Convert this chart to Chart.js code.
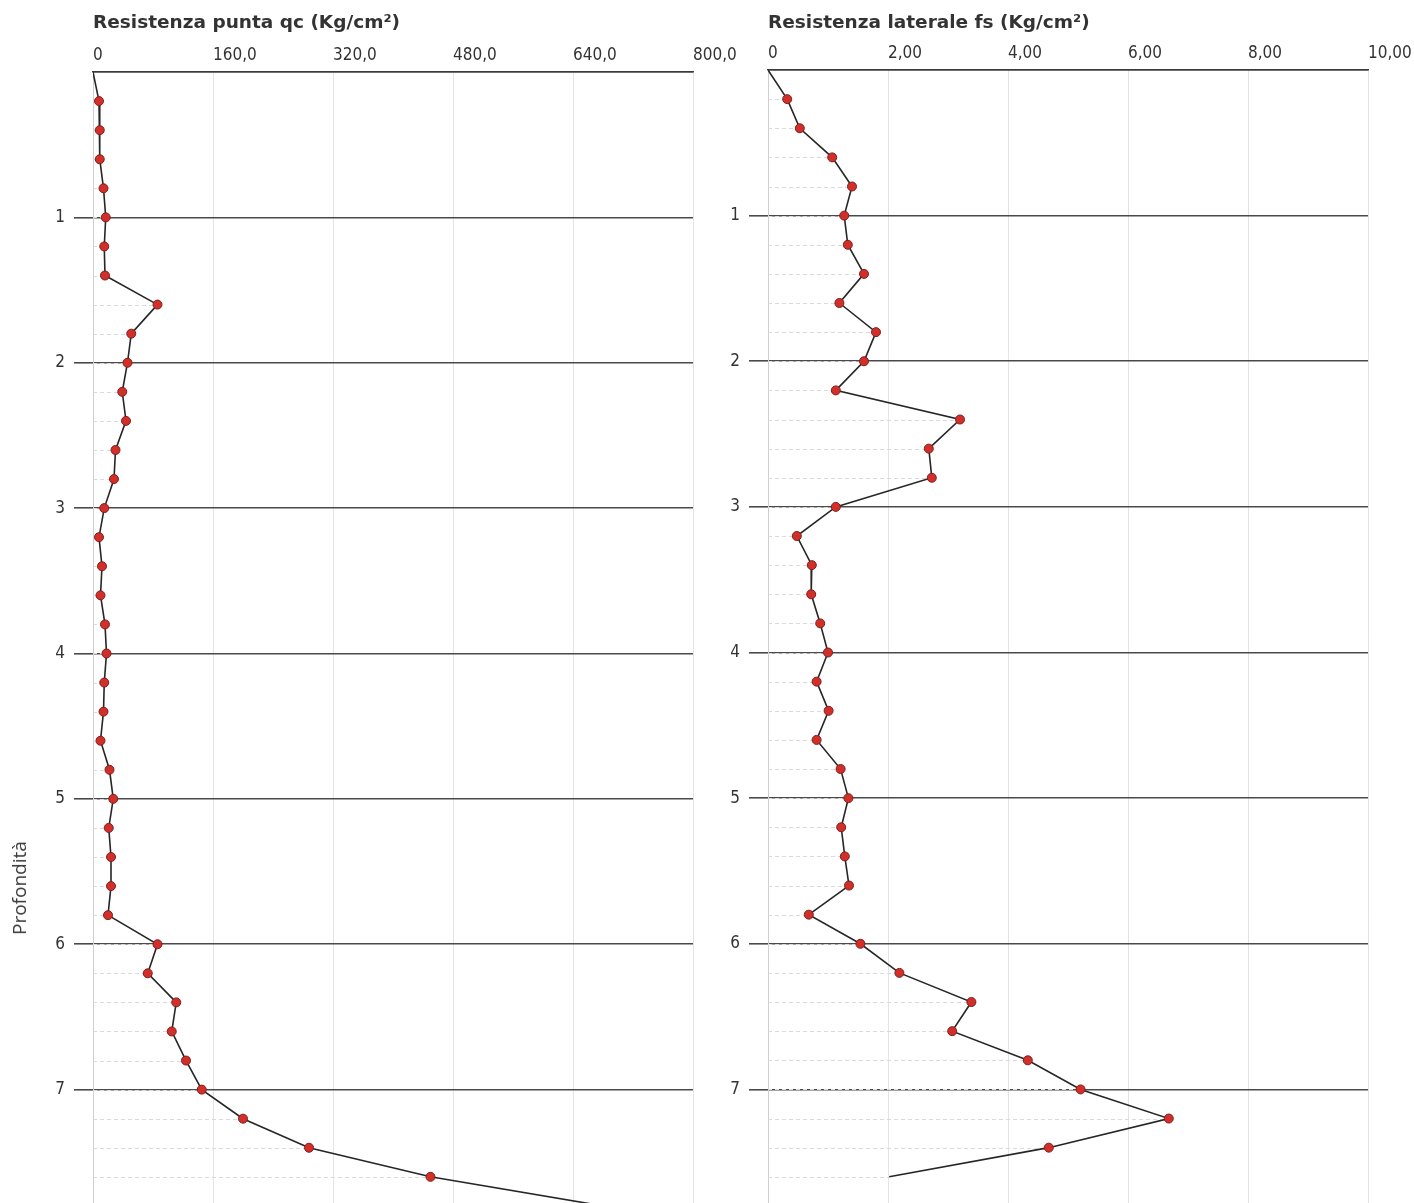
<!DOCTYPE html>
<html>
<head>
<meta charset="utf-8">
<script src="https://cdn.jsdelivr.net/npm/chart.js@4"></script>
<style>
  html, body { margin: 0; padding: 0; background: #fff; }
  #wrap { position: relative; width: 1414px; height: 1203px; overflow: hidden; }
  canvas { position: absolute; left: 0; top: 0; }
  .title { position: absolute; top: 11px; font: bold 18.5px "DejaVu Sans", Verdana, sans-serif; color: #333; white-space: nowrap; }
  #ylab { position: absolute; left: 19px; top: 888px; transform: translate(-50%, -50%) rotate(-90deg);
          font: 19px "Open Sans", sans-serif; color: #3a3a3a; white-space: nowrap; }
</style>
</head>
<body>
<div id="wrap">
  <canvas id="qcChart" width="1414" height="1203"></canvas>
  <canvas id="fsChart" width="1414" height="1203"></canvas>
  <div class="title" style="left:93px">Resistenza punta qc (Kg/cm²)</div>
  <div class="title" style="left:768px">Resistenza laterale fs (Kg/cm²)</div>
  <div id="ylab">Profondità</div>
</div>
<script>
// depths (m) every 20 cm
const depthsQc = [0, 0.2, 0.4, 0.6, 0.8, 1.0, 1.2, 1.4, 1.6, 1.8, 2.0, 2.2, 2.4, 2.6, 2.8, 3.0, 3.2, 3.4, 3.6, 3.8,
                  4.0, 4.2, 4.4, 4.6, 4.8, 5.0, 5.2, 5.4, 5.6, 5.8, 6.0, 6.2, 6.4, 6.6, 6.8, 7.0, 7.2, 7.4, 7.6, 7.8];
const qcValues = [0, 8, 9, 9, 14, 17, 15, 16, 86, 51, 46, 39, 44, 30, 28, 15, 8, 12, 10, 16,
                  18, 15, 14, 10, 22, 27, 21, 24, 24, 20, 86, 73, 111, 105, 124, 145, 200, 288, 450, 680];

const depthsFs = [0, 0.2, 0.4, 0.6, 0.8, 1.0, 1.2, 1.4, 1.6, 1.8, 2.0, 2.2, 2.4, 2.6, 2.8, 3.0, 3.2, 3.4, 3.6, 3.8,
                  4.0, 4.2, 4.4, 4.6, 4.8, 5.0, 5.2, 5.4, 5.6, 5.8, 6.0, 6.2, 6.4, 6.6, 6.8, 7.0, 7.2, 7.4, 7.6];
const fsValues = [0, 0.32, 0.53, 1.07, 1.40, 1.27, 1.33, 1.60, 1.19, 1.80, 1.60, 1.13, 3.20, 2.68, 2.73, 1.13, 0.48, 0.73, 0.72, 0.87,
                  1.00, 0.81, 1.01, 0.81, 1.21, 1.34, 1.22, 1.28, 1.35, 0.68, 1.54, 2.19, 3.39, 3.07, 4.33, 5.21, 6.68, 4.68, 2.02];

const qcTicks = [0, 160, 320, 480, 640, 800];
const fsTicks = [0, 2, 4, 6, 8, 10];
const depthMax = 7.78;

// faint dashed lines from the axis to every reading
const dropLines = {
    id: 'dropLines',
    beforeDatasetsDraw(chart) {
        const ctx = chart.ctx;
        const xs = chart.scales.x, ys = chart.scales.y;
        const x0 = xs.getPixelForValue(0);
        ctx.save();
        ctx.strokeStyle = '#dadada';
        ctx.lineWidth = 1;
        ctx.setLineDash([4, 3]);
        chart.data.datasets[0].data.forEach(p => {
            if (p.x <= 0 || p.y > ys.max) return;
            const y = Math.round(ys.getPixelForValue(p.y)) + 0.5;
            ctx.beginPath();
            ctx.moveTo(x0, y);
            ctx.lineTo(xs.getPixelForValue(p.x), y);
            ctx.stroke();
        });
        ctx.restore();
    }
};

function makeProfile(canvasId, depths, values, ticks, decimals, pad, yWidth, xHeight, hideLast) {
    const points = values.map((v, i) => ({ x: v, y: depths[i] }));
    const radii = values.map((v, i) => (i === 0 || (hideLast && i === values.length - 1)) ? 0 : 4.5);
    const tickFont = { family: '"DejaVu Sans Condensed", "DejaVu Sans", sans-serif', size: 17 };

    return new Chart(document.getElementById(canvasId), {
        type: 'scatter',
        data: {
            datasets: [{
                data: points,
                showLine: true,
                borderColor: '#262626',
                borderWidth: 1.6,
                pointRadius: radii,
                pointBackgroundColor: '#d22f2a',
                pointBorderColor: '#7d1d1a',
                pointBorderWidth: 1
            }]
        },
        options: {
            responsive: false,
            animation: false,
            devicePixelRatio: 1,
            layout: { padding: pad },
            plugins: { legend: { display: false }, tooltip: { enabled: false } },
            scales: {
                x: {
                    type: 'linear',
                    position: 'top',
                    min: ticks[0],
                    max: ticks[ticks.length - 1],
                    afterBuildTicks: function(scale) {
                        scale.ticks = ticks.map(v => ({ value: v }));
                    },
                    afterFit: function(scale) {
                        scale.height = xHeight;
                        scale.paddingLeft = 0;
                        scale.paddingRight = 0;
                    },
                    grid: { color: '#e4e4e4', lineWidth: 1, drawTicks: false },
                    border: { color: '#3a3a3a', width: 1.6 },
                    ticks: {
                        align: 'start',
                        padding: 6,
                        autoSkip: false,
                        maxRotation: 0,
                        color: '#333',
                        font: tickFont,
                        callback: function(value) {
                            return value === 0 ? '0' : value.toFixed(decimals).replace('.', ',');
                        }
                    }
                },
                y: {
                    type: 'linear',
                    reverse: true,
                    min: 0,
                    max: depthMax,
                    afterFit: function(scale) {
                        scale.width = yWidth;
                        scale.paddingTop = 0;
                        scale.paddingBottom = 0;
                    },
                    grid: {
                        color: ctx => Number.isInteger(ctx.tick.value) ? '#4a4a4a' : 'rgba(0,0,0,0)',
                        tickColor: ctx => (Number.isInteger(ctx.tick.value) && ctx.tick.value > 0) ? '#4a4a4a' : 'rgba(0,0,0,0)',
                        lineWidth: 1.6,
                        tickLength: 19
                    },
                    border: { color: '#cfcfcf', width: 1 },
                    ticks: {
                        stepSize: 1,
                        padding: 9,
                        color: '#333',
                        font: tickFont,
                        callback: function(value) {
                            return (Number.isInteger(value) && value > 0) ? String(value) : '';
                        }
                    }
                }
            }
        },
        plugins: [dropLines]
    });
}

makeProfile('qcChart', depthsQc, qcValues, qcTicks, 1, { left: 0, right: 721, top: 0, bottom: 0 }, 93, 72, true);
makeProfile('fsChart', depthsFs, fsValues, fsTicks, 2, { left: 700, right: 46, top: 0, bottom: 0 }, 68, 70, true);
</script>
</body>
</html>
